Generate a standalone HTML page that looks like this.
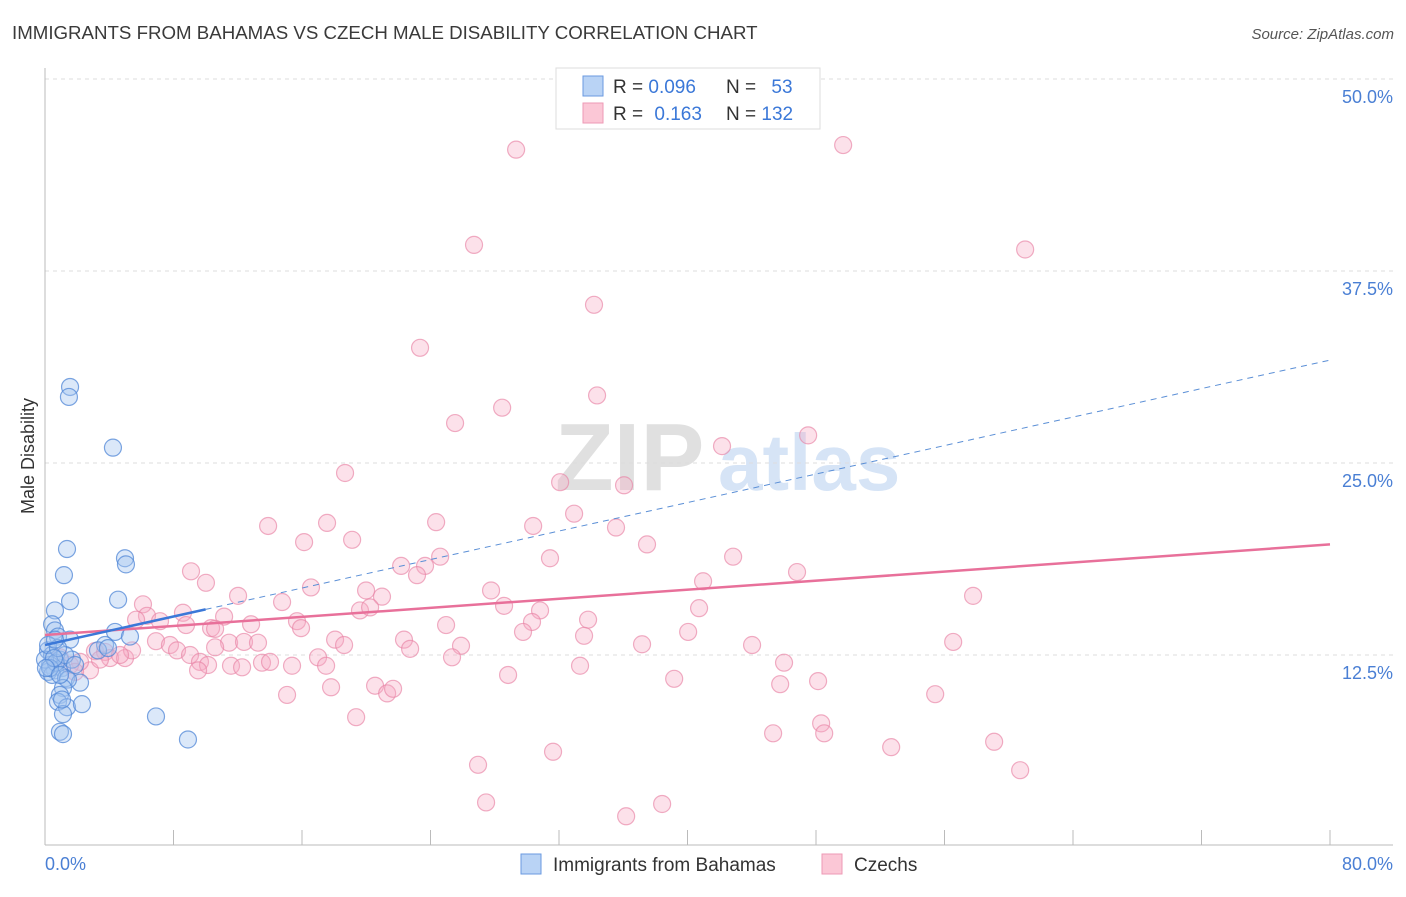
<!DOCTYPE html>
<html><head><meta charset="utf-8"><style>
body{margin:0;background:#fff;font-family:"Liberation Sans",sans-serif;}
svg text{font-family:"Liberation Sans",sans-serif;}
</style></head><body>
<svg id="chart" width="1406" height="892" xmlns="http://www.w3.org/2000/svg">
<text x="12" y="39" font-size="18.7" fill="#3a3a3a">IMMIGRANTS FROM BAHAMAS VS CZECH MALE DISABILITY CORRELATION CHART</text>
<text x="1394" y="39" font-size="15" fill="#555" font-style="italic" text-anchor="end">Source: ZipAtlas.com</text>
<g>
<text x="555" y="490" font-size="96" fill="#e0e0e0" font-family="Liberation Serif" font-weight="bold">ZIP</text>
<text x="718" y="490" font-size="80" fill="#d6e4f6" font-weight="bold">atlas</text>
</g>
<g id="grid"></g>
<g id="axes"></g>
<g id="points"></g>
<g id="trends"></g>
<text transform="translate(34,456) rotate(-90)" font-size="18" fill="#333" text-anchor="middle">Male Disability</text>
<text x="45" y="870" font-size="18" fill="#4a7fd4">0.0%</text>
<text x="1393" y="870" font-size="18" fill="#4a7fd4" text-anchor="end">80.0%</text>
<g>
<rect x="556" y="68" width="264" height="61" fill="#fff" stroke="#ddd"/>
<rect x="583" y="76" width="20" height="20" fill="#b9d3f5" stroke="#6a9ae0"/>
<rect x="583" y="103" width="20" height="20" fill="#fbc7d6" stroke="#ee9ab5"/>
<text x="613" y="93" font-size="19" fill="#333">R = <tspan fill="#3b78d8">0.096</tspan></text>
<text x="726" y="93" font-size="19" fill="#333">N = <tspan fill="#3b78d8" dx="10">53</tspan></text>
<text x="613" y="120" font-size="19" fill="#333">R = <tspan fill="#3b78d8" dx="6">0.163</tspan></text>
<text x="726" y="120" font-size="19" fill="#333">N = <tspan fill="#3b78d8">132</tspan></text>
</g>
<g>
<rect x="521" y="854" width="20" height="20" fill="#b9d3f5" stroke="#6a9ae0"/>
<text x="553" y="871" font-size="19" fill="#333">Immigrants from Bahamas</text>
<rect x="822" y="854" width="20" height="20" fill="#fbc7d6" stroke="#ee9ab5"/>
<text x="854" y="871" font-size="19" fill="#333">Czechs</text>
</g>
</svg>
<script>
const yTicks=[12.5,25,37.5,50];
const yTickLabels=["12.5%","25.0%","37.5%","50.0%"];
const xTicks=[0,8,16,24,32,40,48,56,64,72,80];
const blueX=[1.56,1.49,4.23,1.37,1.18,4.98,5.04,1.56,0.62,4.55,0.44,0.62,0.81,1.56,4.36,5.29,3.74,3.30,0.19,0.44,0.93,0.31,0.62,1.06,0.19,0.44,1.31,2.18,1.43,1.12,0.93,0.81,1.37,2.30,1.12,0.93,1.12,6.91,8.90,0.0,0.19,0.68,1.68,1.25,0.81,0.31,0.56,0.06,0.93,1.87,3.92,0.62,1.06];
const blueY=[29.95,29.3,26.0,19.4,17.7,18.8,18.4,16.0,15.4,16.1,14.5,14.1,13.7,13.5,14.0,13.7,13.15,12.8,12.8,12.5,12.2,11.85,11.5,11.65,11.4,11.2,11.0,10.7,10.9,10.35,9.9,9.45,9.1,9.3,8.65,7.5,7.35,8.5,7.0,12.2,13.15,12.0,12.2,12.5,12.95,11.65,12.3,11.65,11.2,11.85,12.95,13.5,9.6];
const pinkX=[29.33,49.69,26.71,61.02,34.18,23.35,34.37,28.46,25.53,42.15,47.51,18.68,32.07,36.05,13.89,17.56,24.35,30.39,32.94,35.55,16.13,19.12,37.48,24.60,31.44,42.84,22.17,23.66,23.16,9.09,10.02,40.97,46.82,27.77,16.56,19.99,20.98,12.02,57.78,6.10,14.76,19.61,20.24,28.58,30.82,40.72,6.35,5.67,7.16,8.59,11.15,15.69,8.78,12.83,10.34,10.59,15.94,24.97,33.81,30.32,33.56,29.76,40.04,6.91,7.78,8.22,11.46,12.39,13.26,18.06,18.62,22.35,25.90,37.17,44.02,56.54,3.11,3.74,4.05,4.98,5.42,9.03,9.65,10.15,11.58,12.27,13.51,14.01,15.38,17.00,17.50,22.73,25.34,33.31,46.01,9.53,2.80,2.18,1.56,3.42,4.67,28.83,39.17,45.77,48.13,15.07,17.81,20.55,21.30,21.67,55.42,19.37,48.32,48.51,45.33,52.68,59.09,31.63,26.96,60.71,27.46,38.42,36.18,10.59,0.93,1.87];
const pinkY=[45.4,45.7,39.2,38.9,35.3,32.5,29.4,28.6,27.6,26.1,26.8,24.35,23.75,23.55,20.9,21.1,21.15,20.9,21.7,20.8,19.85,20.0,19.7,18.9,18.8,18.9,18.3,18.3,17.7,17.95,17.2,17.3,17.9,16.7,16.9,16.7,16.3,16.35,16.35,15.8,15.95,15.4,15.6,15.7,15.4,15.55,15.05,14.8,14.7,15.25,15.0,14.7,14.45,14.5,14.25,14.2,14.25,14.45,14.8,14.65,13.75,14.0,14.0,13.4,13.15,12.8,13.3,13.35,13.3,13.5,13.15,13.5,13.1,13.2,13.15,13.35,12.75,12.7,12.3,12.3,12.8,12.5,12.05,11.85,11.8,11.7,12.0,12.05,11.8,12.35,11.8,12.9,12.35,11.8,12.0,11.5,11.5,12.05,11.85,12.2,12.5,11.2,10.95,10.6,10.8,9.9,10.4,10.5,10.0,10.3,9.95,8.45,8.05,7.4,7.4,6.5,6.85,6.2,5.35,5.0,2.9,2.8,2.0,13.0,12.35,11.4];
const blueTrend=[13.15,31.7];
const pinkTrend=[13.8,19.7];
const blueSolidEnd=10;

const NS="http://www.w3.org/2000/svg";
const X=v=>45+v*(1285/80);
const Y=v=>847-v*15.36;
function mk(tag,attrs,parent){const e=document.createElementNS(NS,tag);for(const k in attrs)e.setAttribute(k,attrs[k]);document.getElementById(parent).appendChild(e);return e;}
yTicks.forEach((t,i)=>{
 const g=mk('line',{x1:45,x2:1393,y1:Y(t),y2:Y(t),stroke:'#ddd','stroke-dasharray':'4,4'},'grid');
 
 
 const l=mk('text',{x:1393,y:Y(t)+24,'font-size':18,fill:'#4a7fd4','text-anchor':'end'},'grid');
 l.textContent=yTickLabels[i];
 
 
});
const xa=mk('line',{x1:45,x2:1393,y1:845,y2:845,stroke:'#bbb'},'axes');


const ya=mk('line',{x1:45,x2:45,y1:68,y2:845,stroke:'#bbb'},'axes');


xTicks.forEach(t=>{
 const k=mk('line',{x1:X(t),x2:X(t),y1:830,y2:845,stroke:'#bbb'},'axes');
 
 
});
pinkX.forEach((v,i)=>{
 const c=mk('circle',{cx:X(v),cy:Y(pinkY[i]),r:8.5,fill:'rgba(246,170,195,0.35)',stroke:'rgba(232,130,165,0.65)','stroke-width':1.2},'points');
 
 
});
blueX.forEach((v,i)=>{
 const c=mk('circle',{cx:X(v),cy:Y(blueY[i]),r:8.5,fill:'rgba(165,198,240,0.4)',stroke:'rgba(80,135,215,0.75)','stroke-width':1.2},'points');
 
 
});
const bAt=x=>blueTrend[0]+(blueTrend[1]-blueTrend[0])*x/80;
const bd=mk('line',{x1:X(blueSolidEnd),y1:Y(bAt(blueSolidEnd)),x2:X(80),y2:Y(bAt(80)),stroke:'#5b8fd6','stroke-width':1,'stroke-dasharray':'6,5'},'trends');


const pt=mk('line',{x1:X(0),y1:Y(pinkTrend[0]),x2:X(80),y2:Y(pinkTrend[1]),stroke:'#e8709a','stroke-width':2.5},'trends');


const bs=mk('line',{x1:X(0),y1:Y(bAt(0)),x2:X(blueSolidEnd),y2:Y(bAt(blueSolidEnd)),stroke:'#3b78d8','stroke-width':2.5},'trends');


</script>
</body></html>
